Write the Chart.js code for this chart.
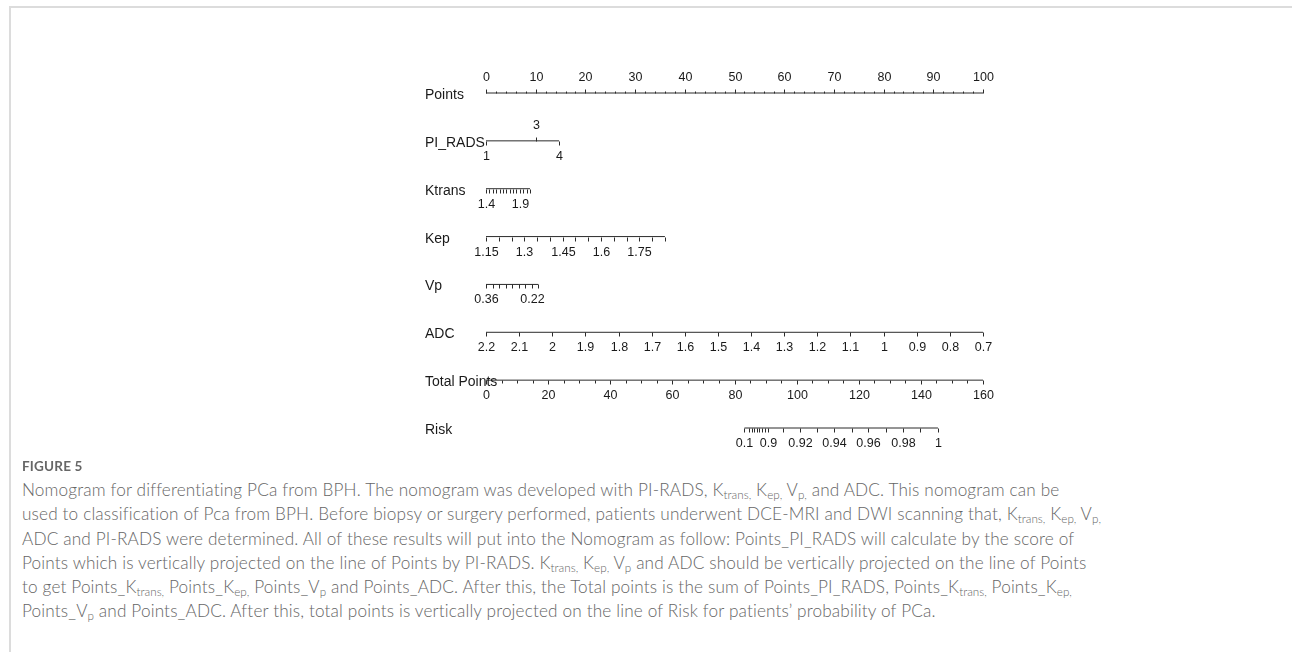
<!DOCTYPE html>
<html><head><meta charset="utf-8">
<script src="https://cdn.jsdelivr.net/npm/chart.js@4.4.0/dist/chart.umd.min.js"></script>
<style>
html,body{margin:0;padding:0;background:#fff;}
body{width:1292px;height:658px;position:relative;overflow:hidden;}
#frameTop{position:absolute;left:9px;top:6px;right:0;height:2px;background:#dcdcdc;}
#frameLeft{position:absolute;left:9px;top:6px;width:2px;height:646px;background:#dcdcdc;}
#wrap{position:absolute;left:0;top:0;width:1292px;height:460px;}
#figlabel{position:absolute;left:22px;top:458px;font-family:Lato,"Open Sans",sans-serif;font-weight:700;font-size:13.5px;color:#666;letter-spacing:0.2px;}
#caption{position:absolute;left:22px;top:478px;font-family:Lato,"Open Sans",sans-serif;font-weight:300;font-size:17.2px;line-height:24.3px;color:#666;letter-spacing:0.15px;}
#caption div{white-space:nowrap;}
#caption sub{font-size:0.68em;vertical-align:-0.25em;line-height:0;letter-spacing:0;}
</style></head>
<body>
<div id="frameTop"></div><div id="frameLeft"></div>
<div id="wrap"><canvas id="c" width="1292" height="460"></canvas></div>
<div id="figlabel">FIGURE 5</div>
<div id="caption">
<div>Nomogram for differentiating PCa from BPH. The nomogram was developed with PI-RADS, K<sub>trans,</sub> K<sub>ep,</sub> V<sub>p,</sub> and ADC. This nomogram can be</div>
<div>used to classification of Pca from BPH. Before biopsy or surgery performed, patients underwent DCE-MRI and DWI scanning that, K<sub>trans,</sub> K<sub>ep,</sub> V<sub>p,</sub></div>
<div>ADC and PI-RADS were determined. All of these results will put into the Nomogram as follow: Points_PI_RADS will calculate by the score of</div>
<div>Points which is vertically projected on the line of Points by PI-RADS. K<sub>trans,</sub> K<sub>ep,</sub> V<sub>p</sub> and ADC should be vertically projected on the line of Points</div>
<div>to get Points_K<sub>trans,</sub> Points_K<sub>ep,</sub> Points_V<sub>p</sub> and Points_ADC. After this, the Total points is the sum of Points_PI_RADS, Points_K<sub>trans,</sub> Points_K<sub>ep,</sub></div>
<div>Points_V<sub>p</sub> and Points_ADC. After this, total points is vertically projected on the line of Risk for patients’ probability of PCa.</div>
</div>
<script>
// ---- data ----
const rowNames = ['Points','PI_RADS','Ktrans','Kep','Vp','ADC','Total Points','Risk'];

const pointsMajor = [0,10,20,30,40,50,60,70,80,90,100];
const pointsMinor = [2,4,6,8,12,14,16,18,22,24,26,28,32,34,36,38,42,44,46,48,52,54,56,58,62,64,66,68,72,74,76,78,82,84,86,88,92,94,96,98];

const piradsValues = [1,3,4];
const piradsPoints = [0,10,14.7];
const piradsLabelSide = ['below','above','below'];

const ktransTicks = [1.4,1.45,1.5,1.55,1.6,1.65,1.7,1.75,1.8,1.85,1.9,1.95,2.0,2.05];
const ktransLabels = [1.4,1.9];
const ktransScale = [1.4, 2.05, 0, 8.85];   // value from, value to, points from, points to

const kepTicks = [1.15,1.2,1.25,1.3,1.35,1.4,1.45,1.5,1.55,1.6,1.65,1.7,1.75,1.8,1.85];
const kepLabels = [1.15,1.3,1.45,1.6,1.75];
const kepScale = [1.15, 1.85, 0, 36.0];

const vpTicks = [0.36,0.34,0.32,0.30,0.28,0.26,0.24,0.22,0.20];
const vpLabels = [0.36,0.22];
const vpScale = [0.36, 0.20, 0, 10.5];

const adcTicks = [2.2,2.1,2,1.9,1.8,1.7,1.6,1.5,1.4,1.3,1.2,1.1,1,0.9,0.8,0.7];
const adcLabels = [2.2,2.1,2,1.9,1.8,1.7,1.6,1.5,1.4,1.3,1.2,1.1,1,0.9,0.8,0.7];
const adcScale = [2.2, 0.7, 0, 100];

const totalMajor = [0,20,40,60,80,100,120,140,160];
const totalMinor = [5,10,15,25,30,35,45,50,55,65,70,75,85,90,95,105,110,115,125,130,135,145,150,155];
const totalScale = [0, 160, 0, 100];

const riskValues = [0.1,0.2,0.3,0.4,0.5,0.6,0.7,0.8,0.9,0.91,0.92,0.93,0.94,0.95,0.96,0.97,0.98,0.99,1];
const riskTotalPoints = [83.2,84.6,85.6,86.4,87.2,88.0,88.8,89.7,90.7,95.6,101.1,106.6,112.0,117.8,123.0,128.8,134.2,139.7,145.5];
const riskLabels = [0.1,0.9,0.92,0.94,0.96,0.98,1];

// ---- build rows (in Points units) ----
function lin(s){ return v => s[2] + (v - s[0]) * (s[3] - s[2]) / (s[1] - s[0]); }
const toTotal = lin(totalScale);
const fmt = v => String(v);

const rows = [];
rows.push({ticks: pointsMajor.map(v=>({p:v,len:4,dir:-1,label:fmt(v),side:'above'}))
  .concat(pointsMinor.map(v=>({p:v,len:2,dir:-1,label:null})))});
rows.push({ticks: piradsValues.map((v,i)=>({p:piradsPoints[i],len:4,dir:piradsLabelSide[i]==='above'?-1:1,label:fmt(v),side:piradsLabelSide[i]}))});
function simpleRow(ticks, labels, scale){
  const f = lin(scale);
  return {ticks: ticks.map(v=>({p:f(v),len:4,dir:1,label:labels.some(l=>Math.abs(l-v)<1e-9)?fmt(v):null,side:'below'}))};
}
rows.push(simpleRow(ktransTicks, ktransLabels, ktransScale));
rows.push(simpleRow(kepTicks, kepLabels, kepScale));
rows.push(simpleRow(vpTicks, vpLabels, vpScale));
rows.push(simpleRow(adcTicks, adcLabels, adcScale));
rows.push({ticks: totalMajor.map(v=>({p:toTotal(v),len:4,dir:1,label:fmt(v),side:'below'}))
  .concat(totalMinor.map(v=>({p:toTotal(v),len:3,dir:1,label:null})))});
rows.push({ticks: riskValues.map((v,i)=>({p:toTotal(riskTotalPoints[i]),len:4,dir:1,
  label:riskLabels.some(l=>Math.abs(l-v)<1e-9)?fmt(v):null,side:'below'}))});

const datasets = rows.map((r,i)=>{
  const ps = r.ticks.map(t=>t.p);
  return {data:[{x:Math.min(...ps),y:i},{x:Math.max(...ps),y:i}],
    borderColor:'#2b2b2b',borderWidth:1,pointRadius:0,showLine:true,fill:false};
});

const nomoPlugin = {
  id:'nomo',
  afterDatasetsDraw(chart){
    const ctx = chart.ctx, xs = chart.scales.x, ys = chart.scales.y;
    ctx.save();
    ctx.strokeStyle = '#2b2b2b'; ctx.lineWidth = 1;
    ctx.fillStyle = '#1a1a1a';
    rows.forEach((r,i)=>{
      const y = Math.round(ys.getPixelForValue(i)) + 0.5;
      // row name
      ctx.font = '14px "Liberation Sans", Arial, sans-serif';
      ctx.textAlign = 'left'; ctx.textBaseline = 'middle';
      ctx.fillText(rowNames[i], chart.chartArea.left - 61, y + 2);
      ctx.font = '12.5px "Liberation Sans", Arial, sans-serif';
      ctx.textAlign = 'center';
      r.ticks.forEach(t=>{
        const x = Math.round(xs.getPixelForValue(t.p)) + 0.5;
        ctx.beginPath(); ctx.moveTo(x, y); ctx.lineTo(x, y + t.dir * t.len); ctx.stroke();
        if (t.label !== null && t.label !== undefined){
          const ly = t.side === 'above' ? y - 16 : y + 15.5;
          ctx.fillText(t.label, x, ly);
        }
      });
    });
    ctx.restore();
  }
};

new Chart(document.getElementById('c'), {
  type:'scatter',
  data:{datasets},
  options:{
    responsive:false, animation:false,
    layout:{padding:{left:486,right:309,top:93,bottom:32}},
    plugins:{legend:{display:false},tooltip:{enabled:false}},
    scales:{
      x:{type:'linear',min:0,max:100,display:false},
      y:{type:'linear',min:0,max:7,reverse:true,display:false}
    },
    elements:{line:{tension:0}},
    clip:false
  },
  plugins:[nomoPlugin]
});
</script>
</body></html>
